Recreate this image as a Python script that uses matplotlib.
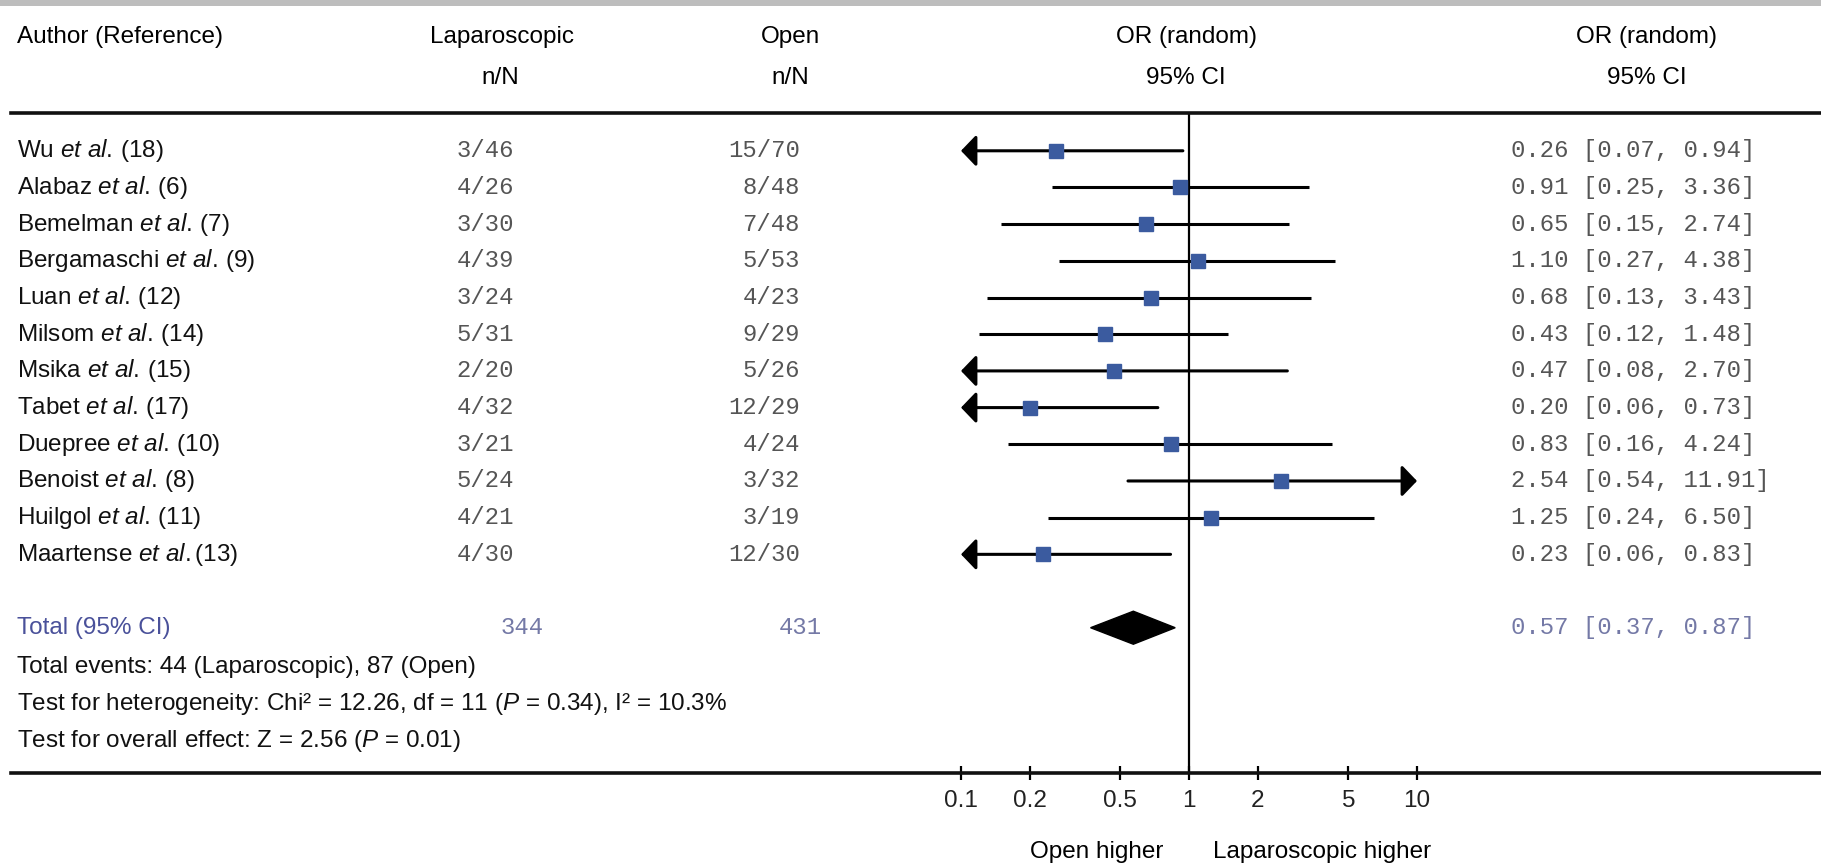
import matplotlib
matplotlib.use("Agg")
import matplotlib.pyplot as plt
from matplotlib.patches import Rectangle
from matplotlib.lines import Line2D
from matplotlib.transforms import blended_transform_factory

# data
authors = ["Wu", "Alabaz", "Bemelman", "Bergamaschi", "Luan", "Milsom",
           "Msika", "Tabet", "Duepree", "Benoist", "Huilgol", "Maartense"]
refs = ["(18)", "(6)", "(7)", "(9)", "(12)", "(14)",
        "(15)", "(17)", "(10)", "(8)", "(11)", "(13)"]
lap_nN = ["3/46", "4/26", "3/30", "4/39", "3/24", "5/31",
          "2/20", "4/32", "3/21", "5/24", "4/21", "4/30"]
open_nN = ["15/70", "8/48", "7/48", "5/53", "4/23", "9/29",
           "5/26", "12/29", "4/24", "3/32", "3/19", "12/30"]
odds = [0.26, 0.91, 0.65, 1.10, 0.68, 0.43, 0.47, 0.20, 0.83, 2.54, 1.25, 0.23]
ci_lo = [0.07, 0.25, 0.15, 0.27, 0.13, 0.12, 0.08, 0.06, 0.16, 0.54, 0.24, 0.06]
ci_hi = [0.94, 3.36, 2.74, 4.38, 3.43, 1.48, 2.70, 0.73, 4.24, 11.91, 6.50, 0.83]
total_lap = 344
total_open = 431
pooled = [0.57, 0.37, 0.87]
xticks = [0.1, 0.2, 0.5, 1, 2, 5, 10]
xticklabels = ["0.1", "0.2", "0.5", "1", "2", "5", "10"]

plt.rcParams['font.family'] = ['Liberation Sans', 'DejaVu Sans']
plt.rcParams['mathtext.fontset'] = 'custom'
plt.rcParams['mathtext.rm'] = 'Liberation Sans'
plt.rcParams['mathtext.it'] = 'Liberation Sans:italic'

W, H = 1821, 865
fig = plt.figure(figsize=(W / 100, H / 100), dpi=100)

def fx(px):
    return px / W

def fy(py):
    return 1 - py / H

# forest axes: 0.1 -> 961px, 10 -> 1417px; rows between 113px and 773px
ax = fig.add_axes([fx(961), fy(773), fx(1417) - fx(961), fy(113) - fy(773)])
ax.set_xscale('log')
ax.set_xlim(0.1, 10)
ax.set_ylim(16.96, -1.03)
for s in ax.spines.values():
    s.set_visible(False)
ax.set_yticks([])
ax.set_xticks(xticks)
ax.set_xticklabels(xticklabels)
ax.minorticks_off()
ax.tick_params(axis='x', direction='inout', length=10, width=1.6, pad=7,
               labelsize=17.5, labelcolor='#222222')
ax.axvline(1, color='black', lw=1.6, zorder=2)

sq_color = '#3b5b9f'
fs = 17.5
mono = 'Liberation Mono'
mono_fs = 17.2
gray = '#555555'
arrow = dict(arrowstyle='-|>,head_length=0.46,head_width=0.48',
             mutation_scale=20, color='black', lw=2.2, shrinkA=0, shrinkB=0)

for i in range(len(authors)):
    lo, hi = ci_lo[i], ci_hi[i]
    a, b = max(lo, 0.1), min(hi, 10)
    if lo < 0.1:
        ax.annotate('', xy=(0.1, i), xytext=(b, i), arrowprops=arrow)
    elif hi > 10:
        ax.annotate('', xy=(10, i), xytext=(a, i), arrowprops=arrow)
    else:
        ax.plot([a, b], [i, i], color='black', lw=2.2, solid_capstyle='butt', zorder=3)
    ax.plot(odds[i], i, marker='s', markersize=10.5, color=sq_color, zorder=4)

# pooled diamond
trow = 13
ax.fill([pooled[1], pooled[0], pooled[2], pooled[0]],
        [trow, trow - 0.45, trow, trow + 0.45], color='black', zorder=4)

# text columns
tr = blended_transform_factory(fig.transFigure, ax.transData)
for i in range(len(authors)):
    sep = r'' if authors[i] == 'Maartense' else r'\,'
    label = r'$\mathrm{%s}\ \mathit{et\ al.}%s\mathrm{%s}$' % (authors[i], sep, refs[i])
    fig.text(fx(17), i, label, transform=tr, fontsize=fs, va='center', color='#111111')
    fig.text(fx(514), i, lap_nN[i], transform=tr, fontsize=mono_fs,
             family=mono, ha='right', va='center', color=gray)
    fig.text(fx(800), i, open_nN[i], transform=tr, fontsize=mono_fs,
             family=mono, ha='right', va='center', color=gray)
    fig.text(fx(1511), i, f"{odds[i]:.2f} [{ci_lo[i]:.2f}, {ci_hi[i]:.2f}]",
             transform=tr, fontsize=mono_fs, family=mono, va='center', color=gray)

blue = '#4a519a'
blue_gray = '#7479a6'
fig.text(fx(17), trow, 'Total (95% CI)', transform=tr, fontsize=fs,
         va='center', color=blue)
fig.text(fx(544), trow, str(total_lap), transform=tr, fontsize=mono_fs,
         family=mono, ha='right', va='center', color=blue_gray)
fig.text(fx(822), trow, str(total_open), transform=tr, fontsize=mono_fs,
         family=mono, ha='right', va='center', color=blue_gray)
fig.text(fx(1511), trow, f"{pooled[0]:.2f} [{pooled[1]:.2f}, {pooled[2]:.2f}]",
         transform=tr, fontsize=mono_fs, family=mono, va='center', color=blue_gray)

notes = ["Total events: 44 (Laparoscopic), 87 (Open)",
         r"Test for heterogeneity: Chi² = 12.26, df = 11 ($\mathit{P}$ = 0.34), I² = 10.3%",
         r"Test for overall effect: Z = 2.56 ($\mathit{P}$ = 0.01)"]
for k, note in enumerate(notes):
    fig.text(fx(17), 14.07 + 1.01 * k, note, transform=tr, fontsize=fs,
             va='center', color='#111111')

# headers
fig.text(fx(17), fy(37), 'Author (Reference)', fontsize=fs, va='center')
fig.text(fx(502), fy(37), 'Laparoscopic', fontsize=fs, va='center', ha='center')
fig.text(fx(500), fy(78), 'n/N', fontsize=fs, va='center', ha='center')
fig.text(fx(790), fy(37), 'Open', fontsize=fs, va='center', ha='center')
fig.text(fx(790), fy(78), 'n/N', fontsize=fs, va='center', ha='center')
fig.text(fx(1186), fy(37), 'OR (random)', fontsize=fs, va='center', ha='center')
fig.text(fx(1186), fy(78), '95% CI', fontsize=fs, va='center', ha='center')
fig.text(fx(1647), fy(37), 'OR (random)', fontsize=fs, va='center', ha='center')
fig.text(fx(1647), fy(78), '95% CI', fontsize=fs, va='center', ha='center')

fig.text(fx(1163), fy(852), 'Open higher', fontsize=fs, va='center', ha='right')
fig.text(fx(1213), fy(852), 'Laparoscopic higher', fontsize=fs, va='center', ha='left')

# rules and top band
fig.add_artist(Line2D([fx(11), 1], [fy(113), fy(113)], color='#111111', lw=2.6))
fig.add_artist(Line2D([fx(11), 1], [fy(773), fy(773)], color='#111111', lw=2.6))
fig.add_artist(Rectangle((0, fy(6)), 1, 6 / H, transform=fig.transFigure,
                         color='#bdbdbd', lw=0))

fig.savefig('out.png', dpi=100)
